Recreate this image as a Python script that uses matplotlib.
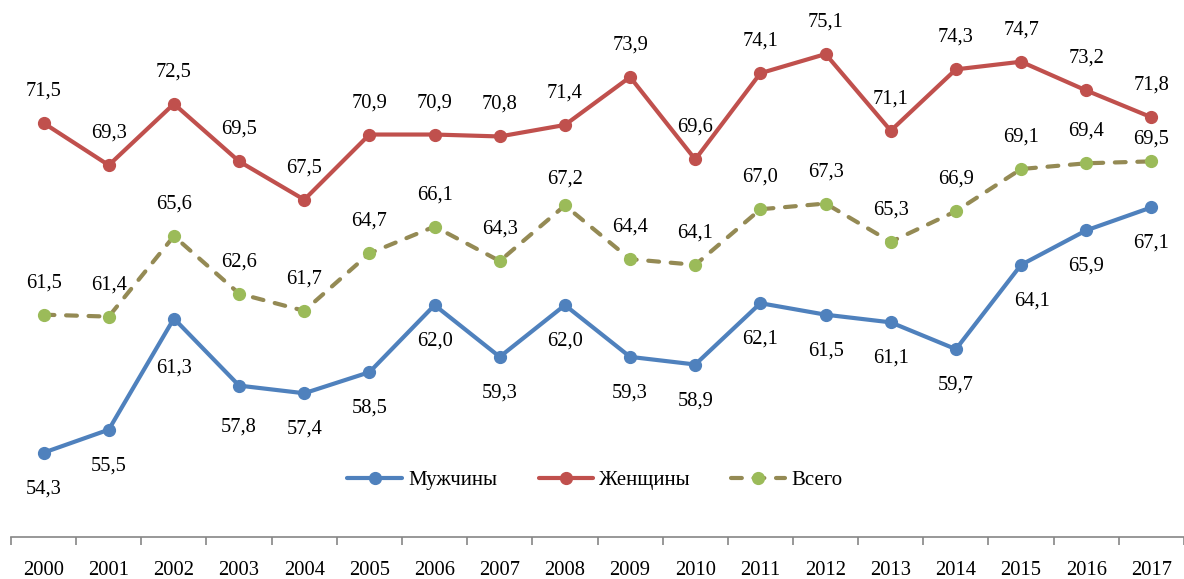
import numpy as np
import matplotlib.pyplot as plt

years = [str(y) for y in range(2000, 2018)]
men = [54.3, 55.5, 61.3, 57.8, 57.4, 58.5, 62.0, 59.3, 62.0, 59.3,
       58.9, 62.1, 61.5, 61.1, 59.7, 64.1, 65.9, 67.1]
women = [71.5, 69.3, 72.5, 69.5, 67.5, 70.9, 70.9, 70.8, 71.4, 73.9,
         69.6, 74.1, 75.1, 71.1, 74.3, 74.7, 73.2, 71.8]
total = [61.5, 61.4, 65.6, 62.6, 61.7, 64.7, 66.1, 64.3, 67.2, 64.4,
         64.1, 67.0, 67.3, 65.3, 66.9, 69.1, 69.4, 69.5]

plt.rcParams['font.family'] = ['Liberation Serif', 'DejaVu Serif']

fig = plt.figure(figsize=(11.84, 5.79), dpi=100)
ax = fig.add_axes([11 / 1184, 42 / 579, 1 - 11 / 1184, 1 - 42 / 579])

x = np.arange(len(years))
blue, red, olive, green = '#4F81BD', '#C0504D', '#948A54', '#9BBB59'

ax.plot(x, men, color=blue, lw=3, marker='o', ms=8.5,
        solid_capstyle='round', label='Мужчины')
ax.plot(x, women, color=red, lw=3, marker='o', ms=8.5,
        solid_capstyle='round', label='Женщины')
ax.plot(x, total, color=olive, lw=3, ls=(0, (2.6, 2.8)), dash_capstyle='round',
        marker='o', ms=8.5, mfc=green, mec=green, label='Всего')

def fmt(v):
    return f'{v:.1f}'.replace('.', ',')

fs = 14.8
# label offsets in points (most are uniform, a few were nudged in the original)
men_dy = {2: -36, 3: -30}
men_dx = {15: 8}
total_dy = {8: 19, 17: 16}
for i in x:
    ax.annotate(fmt(men[i]), (i, men[i]), xytext=(men_dx.get(i, 0), men_dy.get(i, -26)),
                textcoords='offset points', ha='center', va='center', fontsize=fs)
    ax.annotate(fmt(women[i]), (i, women[i]), xytext=(0, 23),
                textcoords='offset points', ha='center', va='center', fontsize=fs)
    ax.annotate(fmt(total[i]), (i, total[i]), xytext=(0, total_dy.get(i, 23)),
                textcoords='offset points', ha='center', va='center', fontsize=fs)

ax.set_xlim(-0.5, 17.5)
ax.set_ylim(49.9, 77.92)
ax.set_yticks([])
for s in ['top', 'right', 'left']:
    ax.spines[s].set_visible(False)
ax.spines['bottom'].set_color('#868686')
ax.spines['bottom'].set_linewidth(1.2)

ax.set_xticks(x)
ax.set_xticklabels(years, fontsize=fs)
ax.set_xticks(np.arange(-0.5, 18, 1), minor=True)
ax.tick_params(axis='x', which='major', length=0, pad=17)
ax.tick_params(axis='x', which='minor', length=6, width=1.2, color='#868686')

ax.legend(loc='center', bbox_to_anchor=(0.498, 0.106), ncol=3, frameon=False,
          fontsize=15, handlelength=2.6, columnspacing=2.0, handletextpad=0.3)

fig.savefig('out.png', dpi=100)
